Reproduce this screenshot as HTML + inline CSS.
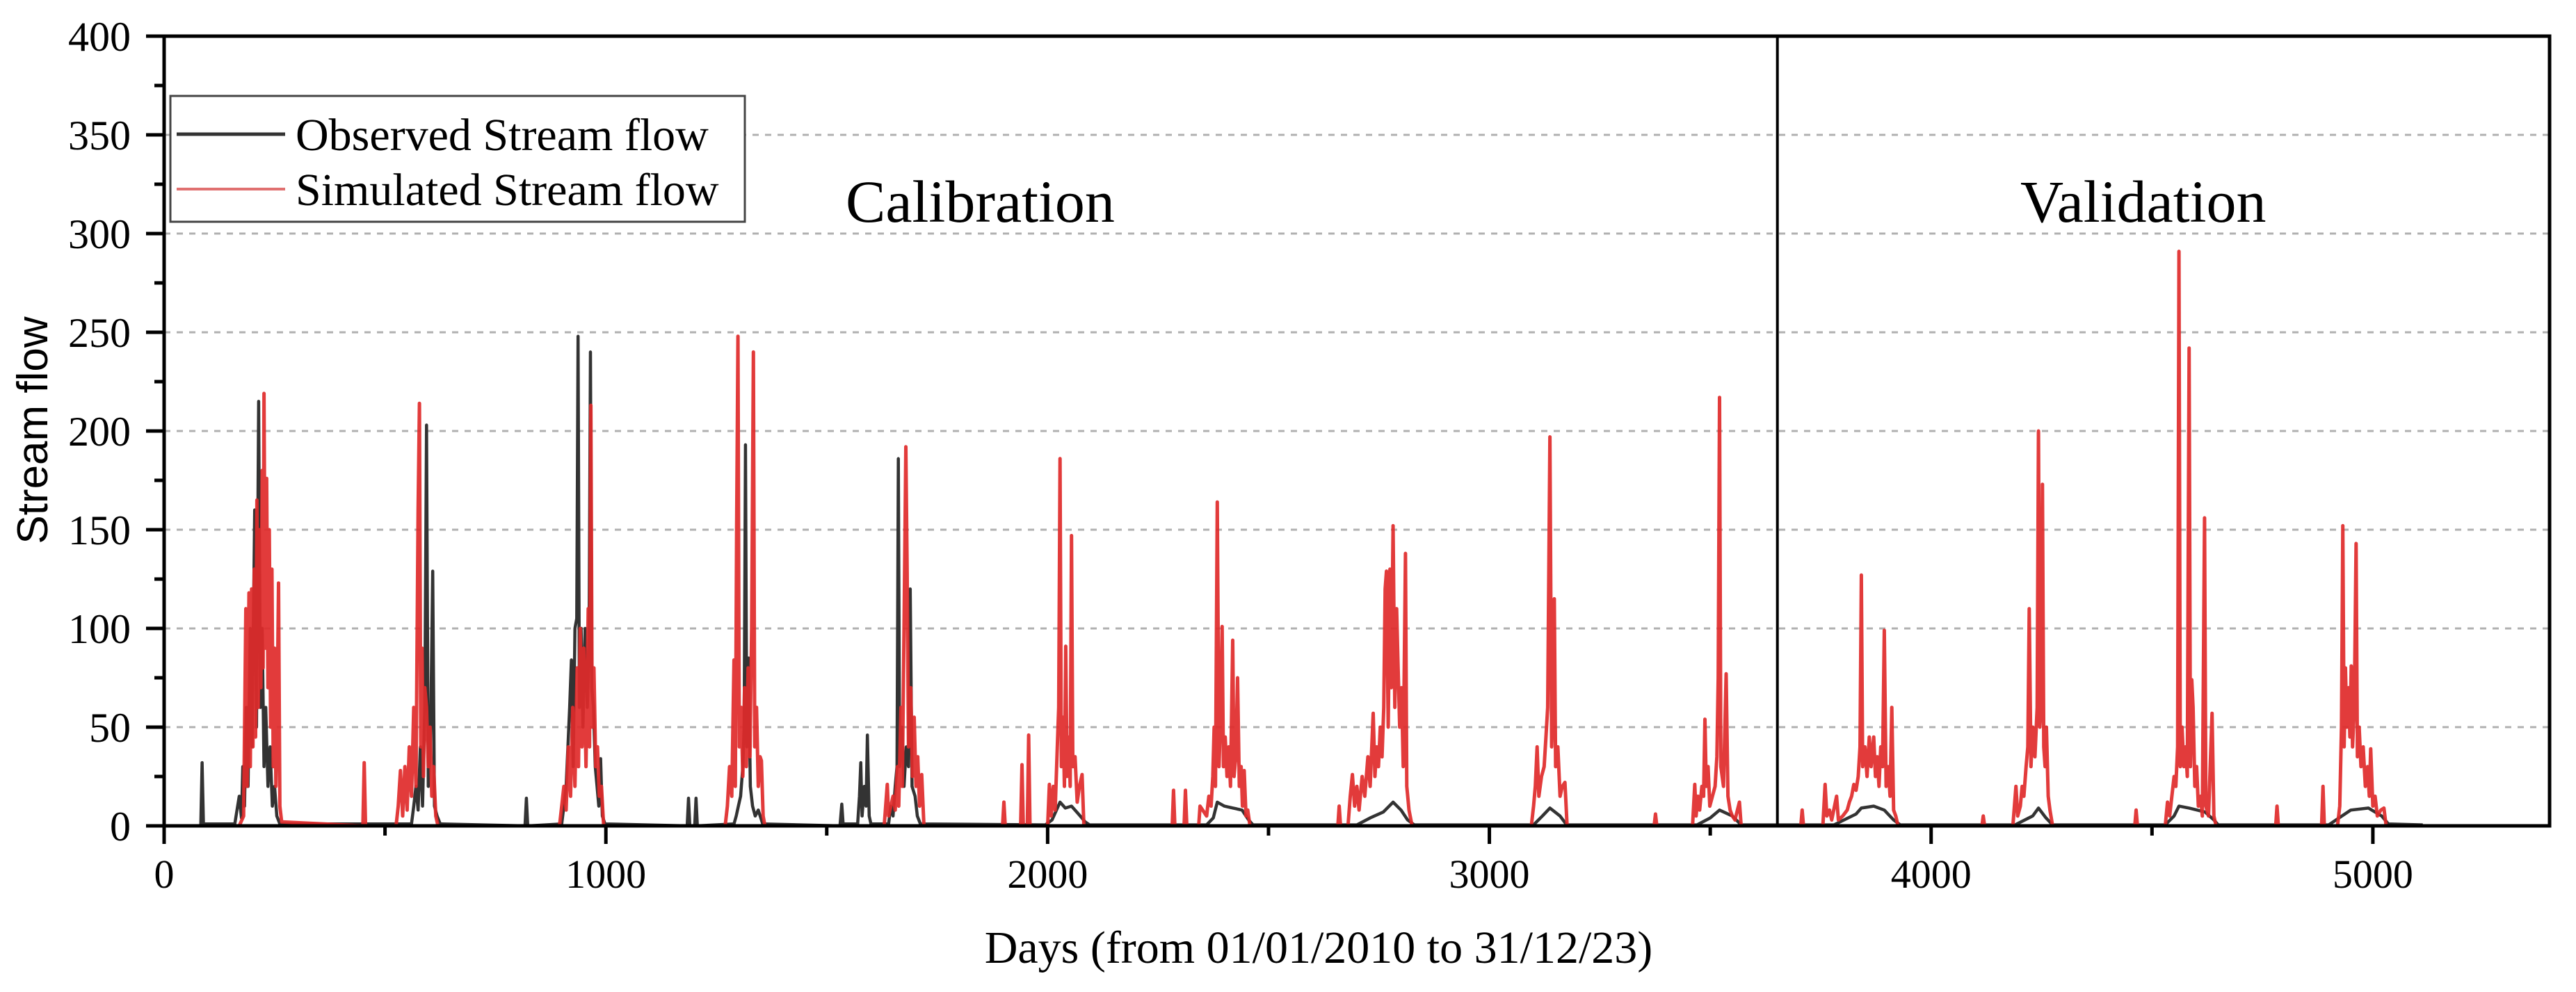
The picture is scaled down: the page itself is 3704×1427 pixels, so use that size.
<!DOCTYPE html>
<html><head><meta charset="utf-8"><style>
html,body{margin:0;padding:0;background:#fff;}
svg{display:block;}
.serif{font-family:"Liberation Serif","Times New Roman",serif;}
.sans{font-family:"Liberation Sans",Arial,sans-serif;}
</style></head><body>
<svg id="chart" width="3704" height="1427" viewBox="0 0 3704 1427" xmlns="http://www.w3.org/2000/svg">
<rect width="3704" height="1427" fill="#fff"/>
<g id="grid"></g>
<g id="series"></g>
<g id="axes"></g>
<text class="serif" x="1216" y="319" font-size="86">Calibration</text>
<text class="serif" x="2905" y="319" font-size="86">Validation</text>
<text class="sans" x="0" y="0" font-size="62" text-anchor="middle" transform="translate(68,619) rotate(-90)">Stream flow</text>
<text class="serif" x="1896" y="1385" font-size="66" text-anchor="middle">Days (from 01/01/2010 to 31/12/23)</text>
<g>
<rect x="245" y="138" width="826" height="181" fill="#fff" stroke="#444" stroke-width="3"/>
<line x1="254" y1="193" x2="410" y2="193" stroke="#333" stroke-width="5"/>
<text class="serif" x="425" y="216" font-size="66">Observed Stream flow</text>
<line x1="254" y1="272" x2="410" y2="272" stroke="#e07070" stroke-width="4"/>
<text class="serif" x="425" y="295" font-size="66">Simulated Stream flow</text>
</g>
</svg>
<script>
const xTicks = [0, 1000, 2000, 3000, 4000, 5000];
const yTicks = [0, 50, 100, 150, 200, 250, 300, 350, 400];
const dividerDay = 3652;
const simDays = [0,170,180,185,188,192,195,198,201,204,207,210,213,216,219,222,224,226,229,232,235,238,241,244,247,250,253,256,259,262,266,450,453,456,
525,530,535,540,545,550,555,560,565,570,575,578,581,584,587,590,594,598,602,606,610,615,620,
895,900,905,910,915,920,925,930,935,938,942,946,950,955,960,963,966,969,973,977,981,985,990,995,
1270,1275,1280,1285,1290,1293,1296,1299,1302,1306,1310,1314,1318,1322,1326,1330,1334,1337,1341,1345,1349,1352,1356,1360,
1630,1637,1640,1650,1655,1660,1663,1668,1671,1675,1679,1682,1685,1690,1694,1698,1702,1706,1710,1715,1720,
1898,1901,1904,1939,1942,1945,1954,1957,1960,
2000,2004,2008,2013,2017,2022,2025,2028,2031,2035,2038,2041,2044,2048,2051,2054,2057,2062,2067,2072,2078,2082,
2282,2285,2288,2309,2312,2315,2342,2345,2360,2365,2370,2374,2377,2380,2384,2388,2392,2395,2398,2402,2406,2410,2414,2419,2422,2426,2430,2434,2438,2441,2445,2449,2453,2458,
2657,2660,2663,2680,2685,2690,2695,2700,2705,2712,2718,2725,2730,2737,2741,2745,2749,2753,2757,2761,2764,2767,2771,2775,2778,2782,2786,2790,2793,2797,2801,2805,2810,2813,2818,2825,
3095,3100,3104,3108,3112,3118,3124,3128,3132,3137,3141,3144,3147,3150,3155,3160,3165,3171,3176,3373,3376,3379,
3460,3465,3468,3472,3476,3481,3485,3488,3491,3495,3499,3505,3511,3515,3518,3521,3524,3530,3536,3540,3545,3550,3556,3566,3570,3705,3708,3711,
3755,3760,3764,3770,3775,3786,3790,3800,3810,3815,3820,3825,3830,3835,3839,3842,3845,3850,3855,3860,3864,3870,3874,3878,3882,3886,3890,3894,3898,3903,3907,3911,3915,3920,3925,
4115,4118,4121,4185,4192,4196,4202,4206,4210,4215,4219,4222,4226,4230,4235,4240,4243,4246,4249,4252,4255,4258,4261,4265,4269,4275,4461,4464,4467,
4530,4535,4540,4545,4550,4554,4558,4561,4564,4568,4572,4576,4580,4584,4587,4590,4593,4597,4601,4605,4610,4614,4619,4622,4628,4636,4640,4645,4780,4783,4786,
4884,4887,4890,4920,4925,4929,4932,4935,4938,4941,4945,4948,4951,4954,4958,4962,4965,4969,4973,4978,4983,4988,4992,4995,5000,5005,5010,5018,5025,5030,5113];
const simVals = [0,0,5,110,20,118,30,120,40,130,45,165,60,150,70,180,80,219,90,176,70,150,50,130,30,90,20,60,123,10,2,0,32,0,
0,10,28,5,30,8,40,15,60,20,160,214,40,90,25,70,60,30,50,15,30,5,0,
0,10,20,8,40,15,60,20,80,30,100,40,90,30,110,40,213,50,80,30,40,15,20,0,
0,10,30,15,84,20,150,248,40,60,25,70,30,80,35,100,240,40,60,20,35,33,5,0,
0,21,5,15,8,30,10,60,20,100,192,128,40,70,25,55,20,35,10,26,0,
0,12,0,0,31,0,0,46,0,
0,21,5,20,8,40,60,186,30,55,20,91,25,45,20,147,30,35,12,20,26,0,
0,18,0,0,18,0,0,10,5,15,10,25,50,20,164,30,60,101,30,45,25,40,20,94,25,35,75,20,30,10,28,5,8,0,
0,10,0,0,15,26,10,20,8,25,15,35,20,57,25,40,30,50,35,60,120,129,50,130,70,152,60,110,83,50,70,30,138,20,8,0,
0,10,20,40,15,25,30,45,60,197,40,60,115,30,40,15,20,22,0,0,6,0,
0,21,5,15,8,20,15,54,20,30,10,15,20,35,75,217,30,20,77,15,8,5,3,12,0,0,8,0,
0,21,5,8,3,15,3,5,8,12,15,21,18,25,40,127,30,40,25,45,30,45,25,35,20,40,30,99,20,30,15,60,8,5,0,
0,5,0,0,20,5,10,20,15,30,40,110,30,50,35,60,200,50,60,173,40,30,50,15,8,0,0,8,0,
0,12,5,15,25,20,40,291,30,50,30,40,25,242,30,74,60,20,30,10,15,5,156,10,5,57,5,0,0,10,0,
0,20,0,0,10,50,152,40,80,50,70,45,81,40,60,143,35,50,30,40,20,30,15,39,10,15,5,8,9,0,0];
const obsDays = [0,83,86,89,160,165,170,175,178,182,186,190,195,199,205,209,214,218,222,226,230,235,240,245,250,255,262,
560,565,570,575,580,585,590,594,598,603,608,612,618,625,817,820,823,
900,905,910,914,918,922,926,930,934,937,940,944,948,953,958,962,965,968,972,976,980,984,988,992,998,
1184,1187,1190,1201,1204,1207,1290,1295,1300,1305,1310,1313,1316,1319,1323,1327,1332,1338,1345,1355,
1530,1534,1537,1570,1574,1577,1580,1585,1589,1592,1596,1600,
1640,1645,1650,1655,1659,1662,1665,1670,1675,1680,1685,1689,1693,1700,1705,1712,
1995,2010,2020,2028,2040,2054,2070,2085,2095,
2360,2375,2384,2400,2420,2440,2455,2465,
2700,2730,2760,2782,2800,2815,2830,
3100,3120,3137,3160,3175,
3470,3500,3521,3550,3570,
3780,3830,3842,3870,3894,3915,3930,
4190,4230,4243,4260,4275,
4530,4550,4561,4584,4620,4640,4650,
4900,4930,4950,4990,5020,5035,5113];
const obsVals = [0,0,32,1,1,8,15,4,30,10,60,20,100,40,160,50,215,60,100,30,60,20,40,10,20,5,1,
1,10,20,8,40,10,60,203,20,40,129,10,5,1,0,14,0,
1,10,20,40,60,84,30,100,105,248,60,100,50,100,60,90,240,70,60,30,20,10,34,5,1,
0,14,0,0,14,0,1,5,10,15,30,50,193,40,85,20,10,5,8,1,
0,11,1,1,15,32,5,20,10,46,5,1,
1,10,5,20,30,186,30,50,20,40,30,120,20,15,5,1,
0.5,3,8,12,9,10,6,2,0.5,
0.5,4,12,10,9,8,3,0.5,
0.5,4,7,12,8,3,0.5,
0.5,5,9,5,0.5,
0.5,4,8,5,0.5,
0.5,6,9,10,8,3,0.5,
0.5,5,9,4,0.5,
0.5,5,10,9,7,3,0.5,
0.5,5,8,9,5,1,0.5];

const X0 = 236, X1 = 3666, XMAX = 5400, Y0 = 1188, Y1 = 52, YMAX = 400;
function xs(d){ return X0 + (X1 - X0) * d / XMAX; }
function ys(v){ return Y0 - (Y0 - Y1) * v / YMAX; }
const NS = 'http://www.w3.org/2000/svg';
function mk(tag, attrs, parent){ const e = document.createElementNS(NS, tag); for (const k in attrs) e.setAttribute(k, attrs[k]); parent.appendChild(e); return e; }

const grid = document.getElementById('grid');
yTicks.forEach(v => {
  if (v === 0 || v === YMAX) return;
  const l = mk('line', {x1: X0, x2: X1, y1: ys(v), y2: ys(v), stroke: '#b0b0b0', 'stroke-width': 3, 'stroke-dasharray': '9 9'}, grid);
  
  
});

const series = document.getElementById('series');
function pts(days, vals){ return days.map((d, i) => xs(d).toFixed(1) + ',' + ys(vals[i]).toFixed(1)).join(' '); }
const obs = mk('polyline', {points: pts(obsDays, obsVals), fill: 'none', stroke: '#333', 'stroke-width': 4.5, 'stroke-linejoin': 'round'}, series);


const sim = mk('polyline', {points: pts(simDays, simVals), fill: 'none', stroke: '#e02a2a', 'stroke-opacity': 0.92, 'stroke-width': 5, 'stroke-linejoin': 'round'}, series);



const axes = document.getElementById('axes');
const frame = mk('rect', {x: X0, y: Y1, width: X1 - X0, height: Y0 - Y1, fill: 'none', stroke: '#000', 'stroke-width': 5}, axes);


const div = mk('line', {x1: xs(dividerDay), x2: xs(dividerDay), y1: Y1, y2: Y0, stroke: '#000', 'stroke-width': 4}, axes);



yTicks.forEach(v => {
  const t = mk('line', {x1: X0 - 26, x2: X0, y1: ys(v), y2: ys(v), stroke: '#000', 'stroke-width': 5}, axes);
  
  
  if (v < YMAX) {
    const m = mk('line', {x1: X0 - 14, x2: X0, y1: ys(v + 25), y2: ys(v + 25), stroke: '#000', 'stroke-width': 5}, axes);
    
    
  }
  const lb = mk('text', {x: 188, y: ys(v) + 21, 'font-size': 60, 'text-anchor': 'end', class: 'serif'}, axes);
  lb.textContent = v;
  
  
});
xTicks.forEach(d => {
  const t = mk('line', {x1: xs(d), x2: xs(d), y1: Y0, y2: Y0 + 26, stroke: '#000', 'stroke-width': 5}, axes);
  
  
  const m = mk('line', {x1: xs(d + 500), x2: xs(d + 500), y1: Y0, y2: Y0 + 14, stroke: '#000', 'stroke-width': 5}, axes);
  
  
  const lb = mk('text', {x: xs(d), y: 1277, 'font-size': 58, 'text-anchor': 'middle', class: 'serif'}, axes);
  lb.textContent = d;
  
  
});
</script>
</body></html>
